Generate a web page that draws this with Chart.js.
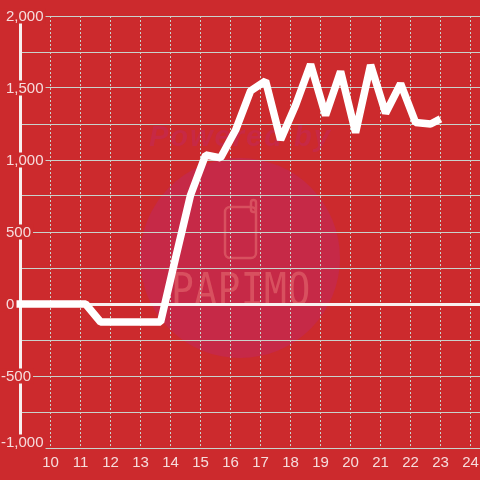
<!DOCTYPE html>
<html>
<head>
<meta charset="utf-8">
<script src="https://cdn.jsdelivr.net/npm/chart.js@4/dist/chart.umd.min.js"></script>
<style>
html, body { margin: 0; padding: 0; background: #cc2a2d; }
canvas { display: block; }
</style>
</head>
<body>
<canvas id="myChart" width="480" height="480"></canvas>
<script>
// 時刻(10分・40分)と値
var times = [8.67, 11.17, 11.67, 13.67, 14.17, 14.67, 15.17, 15.67, 16.17, 16.67, 17.17, 17.67, 18.17, 18.67, 19.17, 19.67, 20.17, 20.67, 21.17, 21.67, 22.17, 22.67, 23];
var values = [0, 0, -125, -125, 320, 757, 1035, 1015, 1208, 1480, 1550, 1140, 1380, 1665, 1310, 1615, 1190, 1660, 1325, 1530, 1260, 1250, 1285];
var yLabels = [2000, 1500, 1000, 500, 0, -500, -1000];

var bgColor = '#cc2a2d';
var tickColor = '#f6dcdc';
var gridColor = '#c9d2cc';
var tickFont = '15px "Liberation Sans"';

// 背景の透かし
var watermark = {
  id: 'watermark',
  beforeDraw: function(chart){
    var ctx = chart.ctx;
    ctx.save();
    ctx.fillStyle = '#c62947';
    ctx.beginPath();
    ctx.arc(240, 258, 100, 0, Math.PI * 2);
    ctx.fill();

    ctx.fillStyle = '#c72945';
    ctx.font = 'italic bold 29px "Liberation Sans"';
    ctx.letterSpacing = '2px';
    ctx.textAlign = 'left';
    ctx.textBaseline = 'alphabetic';
    ctx.fillText('Powered by', 149, 146);

    ctx.strokeStyle = '#d8505f';
    ctx.lineWidth = 2.5;
    ctx.beginPath();
    ctx.roundRect(225, 207, 31, 51, 5);
    ctx.roundRect(251, 200, 5, 12, 2.5);
    ctx.stroke();

    ctx.fillStyle = '#d8505f';
    ctx.font = '38px "DejaVu Sans Mono"';
    ctx.letterSpacing = '0.4px';
    ctx.translate(171, 305);
    ctx.scale(1, 1.15);
    ctx.fillText('PAPIMO', 0, 0);
    ctx.restore();
  }
};

// y軸のラベルは左揃えで軸の上に重なる
var yAxisLabels = {
  id: 'yAxisLabels',
  beforeDatasetsDraw: function(chart){
    var ctx = chart.ctx;
    var scale = chart.scales.y;
    ctx.save();
    ctx.font = tickFont;
    ctx.textAlign = 'left';
    ctx.textBaseline = 'middle';
    yLabels.forEach(function(v){
      var text = v.toLocaleString('en-US');
      var y = scale.getPixelForValue(v) + (v === -1000 ? -6 : 0);
      var x = v < 0 ? 1 : 6;
      ctx.fillStyle = bgColor;
      ctx.fillRect(0, y - 7.5, x + ctx.measureText(text).width + 2, 15);
      ctx.fillStyle = tickColor;
      ctx.fillText(text, x, y + 1);
    });
    ctx.restore();
  }
};

var ctx = document.getElementById('myChart').getContext('2d');
var myChart = new Chart(ctx, {
  type: 'line',
  data: {
    datasets: [{
      data: times.map(function(t, i){ return { x: t, y: values[i] }; }),
      borderColor: '#ffffff',
      borderWidth: 7.5,
      borderJoinStyle: 'bevel',
      pointRadius: 0,
      tension: 0,
      clip: { left: 4, top: 0, right: 0, bottom: 0 }
    }]
  },
  options: {
    responsive: false,
    animation: false,
    layout: { padding: { top: 16 } },
    plugins: { legend: { display: false }, tooltip: { enabled: false } },
    scales: {
      x: {
        type: 'linear',
        min: 9,
        max: 24.317,
        afterBuildTicks: function(scale){
          scale.ticks = scale.ticks.filter(function(t){ return t.value >= 10; });
        },
        afterFit: function(scale){
          scale.height = 32;
          scale.paddingLeft = 0;
          scale.paddingRight = 0;
        },
        grid: { color: gridColor, lineWidth: 1, drawTicks: false },
        border: { display: false, dash: [2, 2] },
        ticks: {
          stepSize: 1,
          includeBounds: false,
          autoSkip: false,
          maxRotation: 0,
          padding: 7,
          color: tickColor,
          font: { family: '"Liberation Sans"', size: 15, lineHeight: 1 }
        }
      },
      y: {
        min: -1000,
        max: 2000,
        afterFit: function(scale){ scale.width = 20.5; },
        grid: {
          drawTicks: false,
          color: function(c){ return c.tick.value === 0 ? '#f8f0f0' : gridColor; },
          lineWidth: function(c){ return c.tick.value === 0 ? 3 : 1; }
        },
        border: { color: '#f8f0f0', width: 3 },
        ticks: { stepSize: 250, display: false }
      }
    }
  },
  plugins: [watermark, yAxisLabels]
});
</script>
</body>
</html>
